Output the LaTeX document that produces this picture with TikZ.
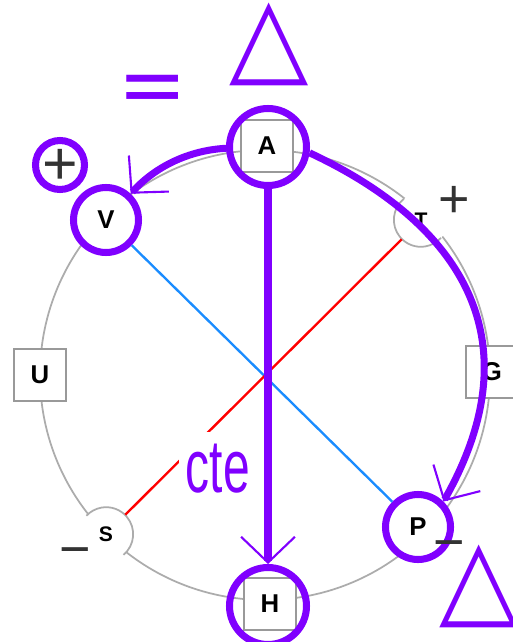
\documentclass[tikz,border=0pt]{standalone}
\usepackage{fontspec}
\setmainfont{Liberation Sans}
\newfontfamily\symfont{DejaVu Sans}
\usepackage{graphicx}
\usetikzlibrary{arrows.meta, positioning}

\definecolor{violetmark}{HTML}{8000FF}
\definecolor{vline}{HTML}{1A8CFF}
\definecolor{signgray}{HTML}{333333}

\tikzset{
  cycleline/.style={gray!65, line width=1.5pt},
  potbox/.style={draw=gray!80, fill=white, line width=2pt, minimum size=1.56cm,
    inner sep=0pt, font=\fontsize{22}{22}\selectfont\bfseries},
  varring/.style={circle, draw=violetmark, fill=white, line width=6pt,
    minimum size=1.95cm, inner sep=0pt, font=\fontsize{22}{22}\selectfont\bfseries},
  ring/.style={circle, draw=violetmark, line width=6pt, minimum size=2.31cm, inner sep=0pt},
  halfvar/.style={circle, fill=white, minimum size=1.62cm, inner sep=0pt,
    font=\fontsize{18}{18}\selectfont\bfseries},
  sign/.style={text=signgray, anchor=base, inner sep=0pt, font=\fontsize{46}{46}\selectfont},
  flow/.style={violetmark, line width=6pt,
    -{Straight Barb[length=22pt, width=46pt, line width=1.8pt]}},
  bigmark/.style={text=violetmark, anchor=base, inner sep=0pt},
}

\begin{document}
\begin{tikzpicture}[x=0.03cm, y=-0.03cm]
  \useasboundingbox (0,0) rectangle (513,642);
  \clip (0,0) rectangle (513,642);

  % the square bent round into a circle
  \draw[cycleline] (265,375) circle (225);

  % potentials in boxes, variables on the circle
  \node[potbox] (A) at (267,146) {A};
  \node[potbox] (H) at (270,604) {H};
  \node[potbox] (U) at (40,375) {U};
  \node[potbox] (G) at (492,372) {G};
  \node[varring] (V) at (106,220) {V};
  \node[varring] (P) at (418,527) {P};
  \node[halfvar] (T) at (421,220) {T};
  \node[halfvar] (S) at (106,534) {S};
  \draw[cycleline] (T.129) arc[start angle=-129, end angle=-318, radius=27];
  \draw[cycleline] (S.-50) arc[start angle=50, end angle=-137, radius=27];

  % signs
  \node[sign] (Tsign) at (454,217) {+};
  \node[sign] (Ssign) at (75,567) {−};
  \node[sign] (Psign) at (449,560) {−};
  \node[ring, minimum size=1.47cm] (Vsignring) at (60,165) {};
  \node[sign, font=\fontsize{52}{52}\selectfont] (Vsign) at (60,184) {+};

  % diagonals
  \draw[vline, line width=2pt] (V) -- (P);
  \draw[red, line width=2pt] (T) -- (S);
  \node[fill=white, text=violetmark, anchor=base, inner xsep=6pt, inner ysep=10pt,
    font=\fontsize{64}{64}\selectfont] (cte) at (218,492) {\scalebox{0.64}[1]{cte}};

  % purple marks
  \node[ring] (Ar) at (268,147) {};
  \node[ring] (Hr) at (268,606) {};
  \draw[flow] (Ar) -- (Hr);
  \draw[flow] (Ar) to[bend right=22.5, looseness=0.89] (V);
  \draw[flow] (Ar.-8) .. controls +(25:150) and +(-60.5:200) .. (P.45);

  \node[bigmark, font=\bfseries\fontsize{88}{88}\selectfont] (eq) at (153,108) {\scalebox{1}[0.62]{=}};
  \node[bigmark, anchor=south, font=\symfont\fontsize{88}{88}\selectfont] (deltaA) at (269,86) {\scalebox{1}[1.05]{△}};
  \node[bigmark, anchor=south, font=\symfont\fontsize{88}{88}\selectfont] (deltaP) at (479,628) {\scalebox{1}[1.05]{△}};
\end{tikzpicture}
\end{document}
